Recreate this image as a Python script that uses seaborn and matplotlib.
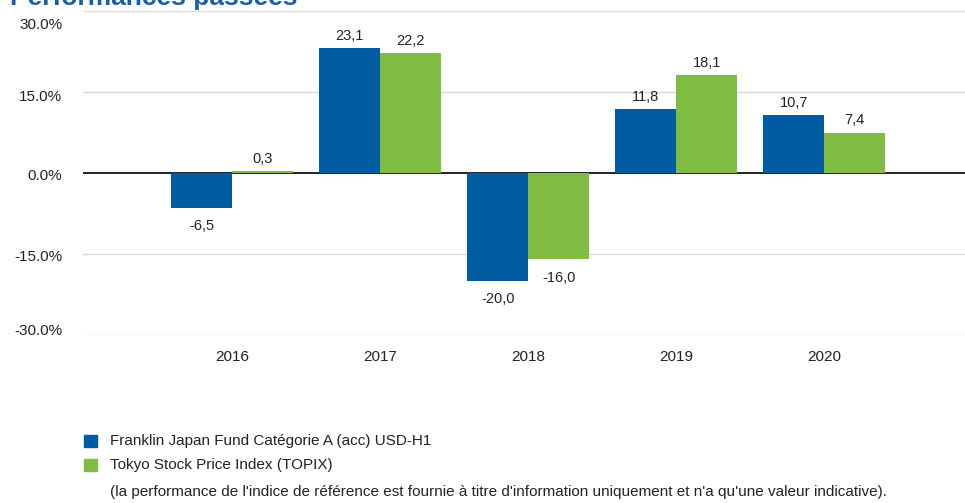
import matplotlib
matplotlib.use("Agg")
import matplotlib.pyplot as plt
import seaborn as sns
import pandas as pd
from matplotlib.patches import Rectangle

years = ["2016", "2017", "2018", "2019", "2020"]
fund = [-6.5, 23.1, -20.0, 11.8, 10.7]
index = [0.3, 22.2, -16.0, 18.1, 7.4]
series_names = ["Franklin Japan Fund Catégorie A (acc) USD-H1", "Tokyo Stock Price Index (TOPIX)"]
yticks = [-30, -15, 0, 15, 30]
title = "Performances passées"
footnote = "(la performance de l'indice de référence est fournie à titre d'information uniquement et n'a qu'une valeur indicative)."

colors = ["#005ca2", "#80bc41"]

df = pd.DataFrame({
    "year": years * 2,
    "value": fund + index,
    "series": [series_names[0]] * 5 + [series_names[1]] * 5,
})

sns.set_theme(style="white")
plt.rcParams["font.family"] = ["Liberation Sans", "DejaVu Sans"]

fig = plt.figure(figsize=(9.65, 5.03), dpi=100)
W, H = 965, 503
ax = fig.add_axes([83 / W, 1 - 335 / H, (965 - 83) / W, (335 - 11) / H])

sns.barplot(data=df, x="year", y="value", hue="series", palette=colors,
            width=0.824, gap=0, ax=ax, legend=False, saturation=1, errorbar=None,
            linewidth=0, edgecolor="none")

ax.set_ylim(-30, 30)
ax.set_xlim(-1.007, 4.95)
ax.set_yticks(yticks)
ax.set_yticklabels([])
# y labels drawn as text, with the small vertical offsets seen in the reference (px, downward)
label_shift = {-30: -4, -15: 3, 0: 3, 15: 5, 30: 14}
for t in yticks:
    ax.annotate(f"{t:.1f}%", (0, t), xycoords=("axes fraction", "data"),
                xytext=(-15, -label_shift[t] * 0.72), textcoords="offset points",
                ha="right", va="center", fontsize=11, color="#222222")
    if t != 0:
        ax.axhline(t, color="#d9d9d9", lw=1, zorder=0)
ax.axhline(0, color="#111111", lw=1.3, zorder=1.5)
ax.tick_params(axis="y", length=0)
ax.tick_params(axis="x", length=0, pad=11)
ax.set_xticks(range(len(years)))
ax.set_xticklabels(years, fontsize=11, color="#222222")
for s in ax.spines.values():
    s.set_visible(False)
ax.set_xlabel("")
ax.set_ylabel("")

for cont in ax.containers:
    for bar in cont:
        bar.set_zorder(2)
        h = bar.get_height()
        x = bar.get_x() + bar.get_width() / 2
        label = f"{h:.1f}".replace(".", ",")
        if h >= 0:
            ax.annotate(label, (x, h), xytext=(0, 4), textcoords="offset points",
                        ha="center", va="bottom", fontsize=10.5, color="#222222")
        else:
            ax.annotate(label, (x, h), xytext=(0, -8), textcoords="offset points",
                        ha="center", va="top", fontsize=10.5, color="#222222")

fig.text(10 / W, 1 - 5 / H, title, fontsize=19, fontweight="bold",
         color="#1a5fa6", va="baseline", ha="left")

# legend
for i, (name, c) in enumerate(zip(series_names, colors)):
    yc = 441 + i * 24
    fig.patches.append(Rectangle((84 / W, 1 - (yc + 6) / H), 13 / W, 12 / H,
                                 transform=fig.transFigure, color=c, figure=fig))
    fig.text(110 / W, 1 - yc / H, name, fontsize=11, color="#222222", va="center", ha="left")
fig.text(110 / W, 1 - 492 / H, footnote, fontsize=11, color="#222222", va="center", ha="left")

fig.savefig("out.png", dpi=100)
